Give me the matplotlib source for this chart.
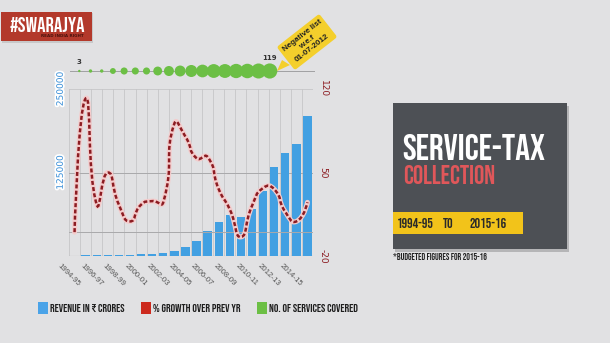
import matplotlib
matplotlib.use('Agg')
import matplotlib.pyplot as plt
import matplotlib.patheffects as pe
import numpy as np
from matplotlib.path import Path
from matplotlib.patches import PathPatch, Rectangle, Polygon

# data read from the infographic
years = ['1994-95', '1995-96', '1996-97', '1997-98', '1998-99', '1999-00', '2000-01',
         '2001-02', '2002-03', '2003-04', '2004-05', '2005-06', '2006-07', '2007-08',
         '2008-09', '2009-10', '2010-11', '2011-12', '2012-13', '2013-14', '2014-15',
         '2015-16']
revenue = [407, 862, 1059, 1586, 1957, 2128, 2613, 3302, 4122, 7891, 14200, 23055,
           37598, 51301, 60941, 58422, 71016, 97509, 132601, 154778, 167969, 209774]
growth = [0, 112, 23, 50, 23, 9, 23, 26, 25, 91, 80, 62, 63, 36, 19, -4, 22, 37, 36,
          17, 9, 25]
services = [3, 6, 6, 18, 26, 26, 26, 41, 52, 62, 75, 84, 99, 100, 106, 109, 117, 119]

left_ticks = [125000, 250000]
right_ticks = [-20, 50, 120]

BG = '#e1e1e3'
BLUE = '#42a0e2'
DARKRED = '#8c1c22'
GREEN = '#6cbf45'
BEBAS = ['Bebas Neue', 'DejaVu Sans']
W, H = 610, 343


def fx(x):
    return x / W


def fy(y):
    return 1 - y / H


def smooth_path(xs, ys, sx, sy, t=0.6):
    # bezier spline through the points, control points from neighbour points
    P = np.column_stack([np.asarray(xs, float) * sx, np.asarray(ys, float) * sy])
    n = len(P)
    cin = P.copy()
    cout = P.copy()
    for i in range(1, n - 1):
        d01 = np.hypot(*(P[i] - P[i - 1]))
        d12 = np.hypot(*(P[i + 1] - P[i]))
        tang = P[i + 1] - P[i - 1]
        cin[i] = P[i] - t * d01 / (d01 + d12) * tang
        cout[i] = P[i] + t * d12 / (d01 + d12) * tang
    verts = [P[0]]
    codes = [Path.MOVETO]
    for i in range(n - 1):
        verts += [cout[i], cin[i + 1], P[i + 1]]
        codes += [Path.CURVE4] * 3
    return Path(np.array(verts) / [sx, sy], codes)


fig = plt.figure(figsize=(W / 100, H / 100), dpi=100, facecolor=BG)

# logo
fig.patches.append(Rectangle((fx(2), fy(43)), fx(91), 30 / H, transform=fig.transFigure,
                             fc='#9a9a9a', ec='none', alpha=0.35))
fig.patches.append(Rectangle((fx(1), fy(41)), fx(91), 29 / H, transform=fig.transFigure,
                             fc='#b3392b', ec='none'))
fig.text(fx(47), fy(25), '#SWARAJYA', color='white', fontsize=15, family=BEBAS,
         ha='center', va='center')
fig.text(fx(62), fy(36), 'READ INDIA RIGHT', color='#4a120c', fontsize=3,
         fontweight='bold', ha='center', va='center')

# main chart
ax = fig.add_axes([fx(69), fy(256), 244 / W, 167 / H])
ax.set_facecolor('none')
x = np.arange(len(years))
for b in np.arange(-0.5, len(years), 1):
    ax.axvline(b, color='#c6c6c8', lw=0.6, zorder=0)
ax.axhline(125000, color='#a9a9ab', lw=0.7, zorder=0)
ax.axhline(250000, color='#c6c6c8', lw=0.6, zorder=0)
ax.axhline(0, color='#9d9d9f', lw=0.8, zorder=0)
ax.bar(x, revenue, width=0.75, color=BLUE, zorder=2)
ax.set_xlim(-0.5, len(years) - 0.5)
ax.set_ylim(0, 250000)
for s in ax.spines.values():
    s.set_visible(False)
ax.set_yticks(left_ticks)
ax.set_yticklabels([str(v) for v in left_ticks], rotation=90, color='#3a8fd8',
                   fontsize=6.5, va='center',
                   path_effects=[pe.withStroke(linewidth=2.5, foreground='white')])
ax.set_xticks(x[::2] - 0.5)
ax.set_xticklabels(years[::2], rotation=-45, ha='center', va='top', fontsize=5.6,
                   color='#555555', family='Liberation Sans')
ax.tick_params(length=0)
ax.tick_params(axis='y', pad=3)
ax.tick_params(axis='x', pad=5)

ax2 = ax.twinx()
ax2.set_ylim(-20, 120)
for s in ax2.spines.values():
    s.set_visible(False)
ax2.axhline(0, color='#a9a9ab', lw=0.7, zorder=0)
ax2.set_yticks(right_ticks)
ax2.set_yticklabels([str(v) for v in right_ticks], rotation=270, color=DARKRED,
                    fontsize=6.5, va='center')
ax2.tick_params(length=0, pad=4)
path = smooth_path(x, growth, 11.1, 167 / 140)
ax2.add_patch(PathPatch(path, fill=False, ec='#f4cccc', lw=3.6, capstyle='round',
                        joinstyle='round'))
ax2.add_patch(PathPatch(path, fill=False, ec=DARKRED, lw=1.8, ls=(0, (1.6, 0.9))))

# services bubbles
axb = fig.add_axes([fx(70), fy(84), 245 / W, 26 / H])
axb.set_axis_off()
axb.set_xlim(-0.83, 21.04)
axb.set_ylim(-1, 1)
axb.axhline(0, color='#a0a0a2', lw=0.7, zorder=0)
xs = np.arange(len(services))
axb.scatter(xs, np.zeros(len(services)), s=np.array(services) * 1.0, color=GREEN,
            zorder=2, linewidths=0)
axb.text(xs[0], 0.5, str(services[0]), ha='center', va='bottom', fontsize=5,
         fontweight='bold', color='#333333')
axb.text(xs[-1], 0.75, str(services[-1]), ha='center', va='bottom', fontsize=5,
         fontweight='bold', color='#333333')

# callout
fig.patches.append(Polygon([(fx(282), fy(60)), (fx(277), fy(71)), (fx(290), fy(65))],
                           closed=True, transform=fig.transFigure, fc='#f4cf2c', ec='none'))
fig.text(fx(307), fy(42), 'Negative list\nw.e.f\n01-07-2012', rotation=38, ha='center',
         va='center', fontsize=5.8, fontweight='bold', family='Liberation Sans',
         linespacing=1.2, color='#222222',
         bbox=dict(boxstyle='round,pad=0.4,rounding_size=0.3', fc='#f4cf2c', ec='none'))

# legend
legend_items = [('REVENUE IN ₹ CRORES', '#4aa3e8', 38),
                ('% GROWTH OVER PREV YR', '#cc2a1e', 141),
                ('NO. OF SERVICES COVERED', GREEN, 257)]
for label, col, lx in legend_items:
    fig.patches.append(Rectangle((fx(lx), fy(314)), 10 / W, 12 / H,
                                 transform=fig.transFigure, fc=col, ec='none'))
    fig.text(fx(lx + 12), fy(308), label, fontsize=8.2, family=BEBAS,
             color='#1e1e1e', ha='left', va='center')

# title panel
fig.patches.append(Rectangle((fx(395), fy(252)), 174 / W, 146 / H,
                             transform=fig.transFigure, fc='#b5b5b7', ec='none'))
fig.patches.append(Rectangle((fx(393), fy(249)), 174 / W, 146 / H,
                             transform=fig.transFigure, fc='#4d5055', ec='none'))
fig.text(fx(402), fy(147), 'SERVICE-TAX', color='white', fontsize=26.5, family=BEBAS,
         ha='left', va='center')
fig.text(fx(403), fy(175), 'COLLECTION', color='#e0575a', fontsize=18.5, family=BEBAS,
         ha='left', va='center')
fig.patches.append(Rectangle((fx(393), fy(234)), 130 / W, 22 / H,
                             transform=fig.transFigure, fc='#f2c31a', ec='none'))
for txt, tx in [('1994-95', 397), ('TO', 443), ('2015-16', 469)]:
    fig.text(fx(tx), fy(223), txt, color='#2a2a2a', fontsize=10, family=BEBAS,
             ha='left', va='center')
fig.text(fx(393), fy(257), '*BUDGETED FIGURES FOR 2015-16', color='#222222', fontsize=6.6,
         family=BEBAS, ha='left', va='center')

fig.savefig('out.png', dpi=100, facecolor=BG)
